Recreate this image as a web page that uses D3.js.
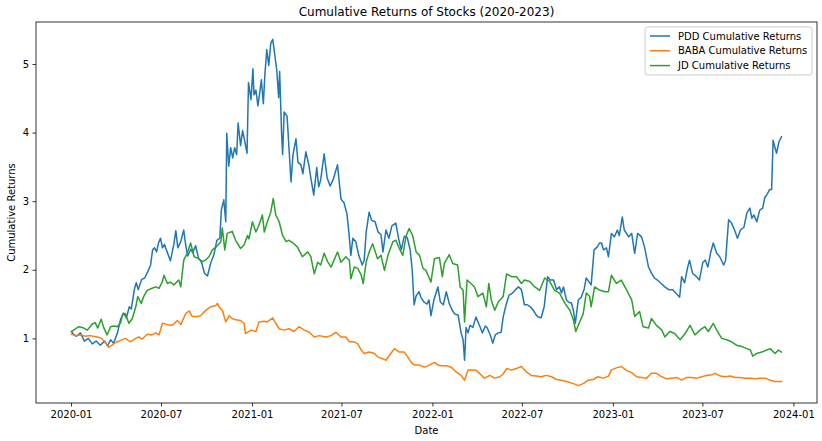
<!DOCTYPE html>
<html><head><meta charset="utf-8">
<script src="https://cdn.jsdelivr.net/npm/d3@7"></script>
<style>
body{margin:0;background:#fff}
svg{display:block}
text{font-family:"DejaVu Sans",sans-serif;fill:#000}
</style>
</head><body>
<svg id="chart" width="822" height="441"></svg>
<script>
// ---------- data ----------
const seriesNames = ["PDD Cumulative Returns", "BABA Cumulative Returns", "JD Cumulative Returns"];
const seriesColors = ["#1f77b4", "#ff7f0e", "#2ca02c"];
const xTickLabels = ["2020-01","2020-07","2021-01","2021-07","2022-01","2022-07","2023-01","2023-07","2024-01"];
const yTickValues = [1, 2, 3, 4, 5];

const pdd = [["2020-01-02",1.10],["2020-01-06",1.06],["2020-01-12",1.03],["2020-01-20",1.08],["2020-01-28",0.96],["2020-02-05",1.00],["2020-02-13",0.92],["2020-02-21",0.96],["2020-02-29",0.90],["2020-03-09",0.96],["2020-03-15",0.89],["2020-03-21",0.98],["2020-03-27",0.93],["2020-04-04",1.08],["2020-04-10",1.27],["2020-04-16",1.37],["2020-04-22",1.30],["2020-04-28",1.46],["2020-05-02",1.43],["2020-05-08",1.71],["2020-05-12",1.81],["2020-05-16",1.71],["2020-05-23",1.86],["2020-05-29",1.88],["2020-06-04",1.97],["2020-06-10",2.07],["2020-06-14",2.29],["2020-06-18",2.32],["2020-06-22",2.26],["2020-06-26",2.39],["2020-06-30",2.46],["2020-07-04",2.32],["2020-07-08",2.37],["2020-07-14",2.25],["2020-07-20",2.13],["2020-07-27",2.37],["2020-07-31",2.57],["2020-08-04",2.32],["2020-08-10",2.41],["2020-08-16",2.58],["2020-08-20",2.36],["2020-08-24",2.20],["2020-08-30",2.30],["2020-09-03",2.25],["2020-09-09",2.35],["2020-09-15",2.17],["2020-09-21",2.11],["2020-09-27",1.95],["2020-10-03",1.91],["2020-10-10",2.11],["2020-10-16",2.22],["2020-10-22",2.43],["2020-10-28",2.46],["2020-10-31",2.87],["2020-11-05",3.02],["2020-11-09",2.70],["2020-11-11",3.99],["2020-11-15",3.51],["2020-11-19",3.78],["2020-11-23",3.63],["2020-11-27",3.78],["2020-12-01",3.68],["2020-12-04",4.14],["2020-12-09",3.81],["2020-12-13",4.03],["2020-12-17",3.89],["2020-12-22",3.70],["2020-12-25",4.73],["2020-12-30",4.48],["2021-01-03",4.93],["2021-01-05",4.55],["2021-01-09",4.62],["2021-01-13",4.39],["2021-01-17",4.60],["2021-01-20",4.77],["2021-01-24",4.42],["2021-01-27",4.83],["2021-01-31",5.21],["2021-02-04",4.98],["2021-02-08",5.30],["2021-02-12",5.36],["2021-02-16",5.14],["2021-02-20",4.92],["2021-02-24",4.51],["2021-02-26",4.89],["2021-03-02",3.97],["2021-03-04",3.68],["2021-03-07",4.30],["2021-03-13",4.24],["2021-03-17",3.76],["2021-03-21",3.28],["2021-03-25",3.68],["2021-03-31",3.91],["2021-04-04",3.57],["2021-04-10",3.53],["2021-04-14",3.40],["2021-04-20",3.72],["2021-04-26",3.53],["2021-04-30",3.34],["2021-05-06",3.09],["2021-05-12",3.49],["2021-05-16",3.21],["2021-05-20",3.31],["2021-05-27",3.69],["2021-06-02",3.34],["2021-06-08",3.22],["2021-06-14",3.31],["2021-06-23",3.53],["2021-06-30",3.03],["2021-07-06",2.98],["2021-07-12",2.82],["2021-07-16",2.55],["2021-07-20",2.21],["2021-07-24",2.46],["2021-07-30",2.41],["2021-08-05",2.21],["2021-08-12",2.07],["2021-08-16",2.14],["2021-08-20",2.55],["2021-08-26",2.84],["2021-08-31",2.72],["2021-09-07",2.70],["2021-09-13",2.55],["2021-09-19",2.51],["2021-09-23",2.26],["2021-09-29",2.58],["2021-10-05",2.46],["2021-10-11",2.64],["2021-10-19",2.68],["2021-10-25",2.44],["2021-10-30",2.29],["2021-11-05",2.49],["2021-11-11",2.47],["2021-11-17",2.29],["2021-11-21",2.00],["2021-11-25",1.49],["2021-11-29",1.62],["2021-12-05",1.68],["2021-12-09",1.59],["2021-12-15",1.53],["2021-12-21",1.50],["2021-12-25",1.56],["2021-12-29",1.33],["2022-01-04",1.56],["2022-01-12",1.75],["2022-01-17",1.53],["2022-01-23",1.49],["2022-01-29",1.68],["2022-02-04",1.51],["2022-02-10",1.41],["2022-02-16",1.35],["2022-02-22",1.34],["2022-02-28",1.08],["2022-03-04",0.98],["2022-03-07",0.68],["2022-03-10",1.16],["2022-03-14",1.08],["2022-03-18",1.19],["2022-03-24",1.16],["2022-03-30",1.31],["2022-04-06",1.19],["2022-04-12",1.08],["2022-04-18",1.18],["2022-04-22",1.15],["2022-04-28",1.05],["2022-05-03",0.93],["2022-05-08",1.05],["2022-05-14",1.08],["2022-05-20",1.09],["2022-05-24",1.31],["2022-05-30",1.49],["2022-06-05",1.63],["2022-06-12",1.66],["2022-06-18",1.71],["2022-06-24",1.75],["2022-06-30",1.71],["2022-07-06",1.49],["2022-07-12",1.49],["2022-07-18",1.46],["2022-07-24",1.41],["2022-07-30",1.34],["2022-08-03",1.31],["2022-08-09",1.30],["2022-08-15",1.46],["2022-08-22",1.90],["2022-08-27",1.85],["2022-09-03",1.85],["2022-09-09",1.71],["2022-09-15",1.75],["2022-09-19",1.66],["2022-09-23",1.75],["2022-09-29",1.56],["2022-10-05",1.52],["2022-10-09",1.52],["2022-10-13",1.41],["2022-10-17",1.22],["2022-10-23",1.56],["2022-10-29",1.60],["2022-11-04",1.72],["2022-11-08",1.88],["2022-11-14",1.82],["2022-11-18",1.78],["2022-11-24",2.29],["2022-11-30",2.33],["2022-12-05",2.39],["2022-12-09",2.39],["2022-12-13",2.29],["2022-12-19",2.32],["2022-12-23",2.19],["2022-12-29",2.53],["2023-01-04",2.48],["2023-01-10",2.58],["2023-01-14",2.50],["2023-01-20",2.77],["2023-01-24",2.58],["2023-02-02",2.48],["2023-02-08",2.53],["2023-02-14",2.24],["2023-02-20",2.53],["2023-02-28",2.48],["2023-03-06",2.33],["2023-03-14",2.04],["2023-03-20",1.95],["2023-03-26",1.88],["2023-04-01",1.85],["2023-04-07",1.81],["2023-04-16",1.75],["2023-04-24",1.71],["2023-05-02",1.71],["2023-05-08",1.66],["2023-05-16",1.60],["2023-05-20",1.90],["2023-05-26",1.81],["2023-06-01",2.03],["2023-06-05",2.14],["2023-06-11",1.95],["2023-06-19",1.90],["2023-06-25",1.85],["2023-07-02",2.11],["2023-07-07",2.14],["2023-07-12",2.04],["2023-07-18",2.26],["2023-07-23",2.39],["2023-07-30",2.24],["2023-08-05",2.19],["2023-08-13",2.07],["2023-08-17",2.14],["2023-08-23",2.73],["2023-08-29",2.68],["2023-09-04",2.58],["2023-09-10",2.46],["2023-09-16",2.58],["2023-09-23",2.62],["2023-09-29",2.83],["2023-10-05",2.90],["2023-10-09",2.75],["2023-10-13",2.80],["2023-10-19",2.70],["2023-10-25",2.87],["2023-10-31",2.90],["2023-11-04",3.05],["2023-11-08",3.09],["2023-11-14",3.17],["2023-11-18",3.17],["2023-11-21",3.89],["2023-11-24",3.80],["2023-11-28",3.70],["2023-12-03",3.87],["2023-12-08",3.94]];

const baba = [["2020-01-02",1.06],["2020-01-10",1.04],["2020-01-20",1.05],["2020-01-30",1.03],["2020-02-09",1.04],["2020-02-23",1.02],["2020-03-03",1.00],["2020-03-11",0.93],["2020-03-17",0.87],["2020-03-24",0.90],["2020-03-31",0.94],["2020-04-10",0.97],["2020-04-20",1.00],["2020-04-30",0.95],["2020-05-11",1.00],["2020-05-17",1.02],["2020-05-24",0.99],["2020-06-03",1.06],["2020-06-13",1.05],["2020-06-20",1.08],["2020-06-27",1.05],["2020-07-04",1.22],["2020-07-14",1.20],["2020-07-24",1.19],["2020-08-03",1.26],["2020-08-10",1.20],["2020-08-20",1.36],["2020-08-27",1.40],["2020-09-02",1.32],["2020-09-13",1.32],["2020-09-19",1.33],["2020-09-27",1.39],["2020-10-03",1.43],["2020-10-10",1.46],["2020-10-20",1.48],["2020-10-23",1.51],["2020-10-26",1.46],["2020-11-02",1.41],["2020-11-09",1.24],["2020-11-16",1.33],["2020-11-22",1.29],["2020-11-29",1.27],["2020-12-09",1.26],["2020-12-16",1.22],["2020-12-19",1.07],["2020-12-30",1.12],["2021-01-09",1.10],["2021-01-15",1.24],["2021-01-26",1.25],["2021-02-01",1.24],["2021-02-12",1.30],["2021-02-18",1.22],["2021-02-25",1.14],["2021-03-07",1.12],["2021-03-17",1.14],["2021-03-27",1.10],["2021-04-06",1.17],["2021-04-17",1.12],["2021-04-27",1.09],["2021-05-07",1.02],["2021-05-17",1.04],["2021-05-31",1.02],["2021-06-10",1.04],["2021-06-20",1.09],["2021-06-30",1.02],["2021-07-10",1.02],["2021-07-17",0.95],["2021-07-27",0.95],["2021-08-03",0.92],["2021-08-10",0.83],["2021-08-16",0.78],["2021-08-26",0.80],["2021-09-06",0.78],["2021-09-12",0.73],["2021-09-23",0.70],["2021-09-29",0.68],["2021-10-06",0.75],["2021-10-16",0.85],["2021-10-26",0.80],["2021-11-05",0.80],["2021-11-12",0.73],["2021-11-19",0.65],["2021-11-26",0.61],["2021-12-06",0.61],["2021-12-16",0.58],["2021-12-26",0.61],["2022-01-05",0.65],["2022-01-12",0.61],["2022-01-19",0.60],["2022-01-29",0.60],["2022-02-08",0.58],["2022-02-18",0.51],["2022-02-28",0.46],["2022-03-07",0.39],["2022-03-14",0.54],["2022-03-24",0.54],["2022-03-31",0.53],["2022-04-06",0.49],["2022-04-16",0.42],["2022-04-27",0.46],["2022-05-07",0.42],["2022-05-17",0.44],["2022-05-24",0.48],["2022-05-31",0.56],["2022-06-10",0.54],["2022-06-20",0.56],["2022-06-30",0.59],["2022-07-10",0.51],["2022-07-20",0.46],["2022-07-30",0.45],["2022-08-09",0.44],["2022-08-19",0.46],["2022-08-30",0.44],["2022-09-09",0.40],["2022-09-19",0.39],["2022-09-29",0.37],["2022-10-13",0.34],["2022-10-23",0.31],["2022-11-02",0.34],["2022-11-12",0.39],["2022-11-22",0.40],["2022-12-02",0.44],["2022-12-12",0.42],["2022-12-23",0.45],["2022-12-29",0.54],["2023-01-08",0.57],["2023-01-18",0.59],["2023-01-29",0.53],["2023-02-08",0.50],["2023-02-18",0.44],["2023-02-28",0.43],["2023-03-10",0.42],["2023-03-20",0.49],["2023-03-30",0.49],["2023-04-10",0.44],["2023-04-20",0.41],["2023-04-30",0.42],["2023-05-10",0.43],["2023-05-20",0.39],["2023-05-30",0.43],["2023-06-09",0.43],["2023-06-19",0.42],["2023-06-30",0.44],["2023-07-10",0.46],["2023-07-20",0.47],["2023-07-27",0.49],["2023-08-06",0.45],["2023-08-16",0.44],["2023-08-26",0.45],["2023-09-05",0.43],["2023-09-15",0.43],["2023-09-25",0.42],["2023-10-06",0.42],["2023-10-16",0.41],["2023-10-26",0.42],["2023-11-05",0.42],["2023-11-15",0.39],["2023-11-25",0.37],["2023-12-08",0.37]];

const jd = [["2020-01-02",1.10],["2020-01-06",1.12],["2020-01-17",1.17],["2020-01-27",1.15],["2020-02-03",1.12],["2020-02-13",1.21],["2020-02-19",1.23],["2020-02-24",1.15],["2020-03-02",1.28],["2020-03-07",1.16],["2020-03-14",1.05],["2020-03-21",1.17],["2020-03-28",1.18],["2020-04-03",1.17],["2020-04-10",1.22],["2020-04-14",1.34],["2020-04-20",1.36],["2020-04-27",1.22],["2020-05-04",1.29],["2020-05-11",1.46],["2020-05-15",1.61],["2020-05-22",1.51],["2020-05-27",1.61],["2020-06-03",1.70],["2020-06-13",1.73],["2020-06-20",1.75],["2020-06-27",1.73],["2020-07-04",1.83],["2020-07-07",1.92],["2020-07-14",1.80],["2020-07-20",1.82],["2020-07-27",1.78],["2020-08-06",1.85],["2020-08-10",1.75],["2020-08-16",2.14],["2020-08-23",2.24],["2020-08-30",2.39],["2020-09-06",2.19],["2020-09-13",2.17],["2020-09-23",2.12],["2020-09-29",2.14],["2020-10-06",2.19],["2020-10-13",2.29],["2020-10-20",2.33],["2020-10-30",2.41],["2020-11-02",2.61],["2020-11-07",2.29],["2020-11-12",2.53],["2020-11-22",2.56],["2020-11-29",2.43],["2020-12-09",2.31],["2020-12-16",2.36],["2020-12-23",2.50],["2020-12-26",2.45],["2021-01-02",2.70],["2021-01-09",2.55],["2021-01-15",2.65],["2021-01-22",2.80],["2021-01-26",2.55],["2021-02-01",2.70],["2021-02-08",2.84],["2021-02-13",3.04],["2021-02-18",2.80],["2021-02-25",2.70],["2021-03-04",2.50],["2021-03-11",2.41],["2021-03-17",2.43],["2021-03-27",2.38],["2021-04-03",2.33],["2021-04-13",2.19],["2021-04-24",2.26],["2021-04-30",2.19],["2021-05-07",1.94],["2021-05-14",2.11],["2021-05-20",2.07],["2021-05-27",2.24],["2021-06-03",2.12],["2021-06-10",2.04],["2021-06-16",2.14],["2021-06-23",2.26],["2021-06-30",2.11],["2021-07-10",2.19],["2021-07-17",2.14],["2021-07-20",1.87],["2021-07-27",2.04],["2021-08-03",2.02],["2021-08-10",1.92],["2021-08-14",1.80],["2021-08-20",2.11],["2021-08-26",2.26],["2021-09-02",2.38],["2021-09-12",2.16],["2021-09-19",2.21],["2021-09-26",1.99],["2021-10-03",2.21],["2021-10-13",2.41],["2021-10-19",2.43],["2021-10-26",2.31],["2021-11-02",2.21],["2021-11-09",2.50],["2021-11-15",2.60],["2021-11-22",2.50],["2021-11-29",2.26],["2021-12-06",2.21],["2021-12-13",2.02],["2021-12-19",1.99],["2021-12-29",1.82],["2022-01-05",2.16],["2022-01-15",2.18],["2022-01-21",1.90],["2022-01-25",2.09],["2022-02-04",2.22],["2022-02-11",2.09],["2022-02-21",2.07],["2022-02-26",1.75],["2022-03-04",1.70],["2022-03-07",1.24],["2022-03-12",1.85],["2022-03-20",1.80],["2022-03-27",1.75],["2022-04-03",1.61],["2022-04-13",1.66],["2022-04-20",1.46],["2022-04-25",1.80],["2022-04-30",1.56],["2022-05-07",1.41],["2022-05-14",1.53],["2022-05-24",1.61],["2022-05-31",1.94],["2022-06-10",1.90],["2022-06-20",1.90],["2022-06-30",1.80],["2022-07-06",1.85],["2022-07-17",1.83],["2022-07-27",1.75],["2022-08-06",1.70],["2022-08-16",1.88],["2022-08-26",1.83],["2022-09-05",1.70],["2022-09-15",1.66],["2022-09-26",1.51],["2022-10-06",1.41],["2022-10-13",1.27],["2022-10-18",1.10],["2022-10-23",1.19],["2022-11-02",1.36],["2022-11-08",1.66],["2022-11-15",1.61],["2022-11-18",1.46],["2022-11-25",1.75],["2022-12-06",1.70],["2022-12-16",1.68],["2022-12-23",1.68],["2022-12-29",1.92],["2023-01-08",1.80],["2023-01-18",1.85],["2023-01-29",1.70],["2023-02-08",1.56],["2023-02-14",1.32],["2023-02-24",1.39],["2023-03-03",1.17],["2023-03-14",1.15],["2023-03-20",1.29],["2023-03-30",1.19],["2023-04-10",1.12],["2023-04-16",1.02],["2023-04-26",1.10],["2023-05-06",1.07],["2023-05-17",0.98],["2023-05-27",1.07],["2023-06-06",1.19],["2023-06-16",1.05],["2023-06-26",1.12],["2023-07-06",1.17],["2023-07-13",1.10],["2023-07-23",1.22],["2023-07-30",1.12],["2023-08-09",1.00],["2023-08-19",0.98],["2023-08-29",0.95],["2023-09-08",0.90],["2023-09-19",0.88],["2023-09-29",0.85],["2023-10-06",0.83],["2023-10-11",0.74],["2023-10-19",0.78],["2023-10-29",0.80],["2023-11-08",0.83],["2023-11-15",0.85],["2023-11-25",0.78],["2023-12-02",0.83],["2023-12-08",0.80]];

// ---------- drawing ----------
const W = 822, H = 441;
const m = {left: 36, right: 5, top: 22, bottom: 38};
const iw = W - m.left - m.right, ih = H - m.top - m.bottom;
const parse = d3.timeParse("%Y-%m-%d");
const parseMonth = d3.timeParse("%Y-%m");
const allSeries = [pdd, baba, jd].map(s => s.map(([d, v]) => ({date: parse(d), value: v})));

const allPts = allSeries.flat();
const [x0, x1] = d3.extent(allPts, d => d.date);
const xPad = (x1 - x0) * 0.05;
const [y0, y1] = d3.extent(allPts, d => d.value);
const yPad = (y1 - y0) * 0.05;

const x = d3.scaleTime().domain([new Date(+x0 - xPad), new Date(+x1 + xPad)]).range([0, iw]);
const y = d3.scaleLinear().domain([y0 - yPad, y1 + yPad]).range([ih, 0]);

const svg = d3.select("#chart");
svg.append("rect").attr("width", W).attr("height", H).attr("fill", "#fff");
const g = svg.append("g").attr("transform", `translate(${m.left},${m.top})`);

// title
svg.append("text").attr("x", m.left + iw / 2).attr("y", 16)
  .attr("text-anchor", "middle").attr("font-size", 12)
  .text("Cumulative Returns of Stocks (2020-2023)");

// axes
const xAxis = d3.axisBottom(x)
  .tickValues(xTickLabels.map(parseMonth))
  .tickFormat(d3.timeFormat("%Y-%m"))
  .tickSize(3.5).tickPadding(4.5);
const gx = g.append("g").attr("transform", `translate(0,${ih})`).call(xAxis);
gx.select(".domain").remove();
gx.selectAll("line").attr("stroke", "#000").attr("stroke-width", 0.8);
gx.selectAll("text").attr("font-size", 10).attr("font-family", "DejaVu Sans").attr("fill", "#000");

const yAxis = d3.axisLeft(y).tickValues(yTickValues).tickFormat(d3.format("d"))
  .tickSize(3.5).tickPadding(3.5);
const gy = g.append("g").call(yAxis);
gy.select(".domain").remove();
gy.selectAll("line").attr("stroke", "#000").attr("stroke-width", 0.8);
gy.selectAll("text").attr("font-size", 10).attr("font-family", "DejaVu Sans").attr("fill", "#000");

// axis labels
svg.append("text").attr("x", m.left + iw / 2).attr("y", 434)
  .attr("text-anchor", "middle").attr("font-size", 10).text("Date");
svg.append("text").attr("transform", `translate(15.3,${m.top + ih / 2}) rotate(-90)`)
  .attr("text-anchor", "middle").attr("font-size", 10).text("Cumulative Returns");

// lines
const line = d3.line().x(d => x(d.date)).y(d => y(d.value));
allSeries.forEach((s, i) => {
  g.append("path").datum(s)
    .attr("fill", "none")
    .attr("stroke", seriesColors[i])
    .attr("stroke-width", 1.5)
    .attr("stroke-linejoin", "round")
    .attr("stroke-linecap", "square")
    .attr("d", line);
});

// frame
g.append("rect").attr("width", iw).attr("height", ih)
  .attr("fill", "none").attr("stroke", "#000").attr("stroke-width", 0.8);

// legend
const lg = svg.append("g").attr("transform", "translate(645,27)");
lg.append("rect").attr("width", 167).attr("height", 48).attr("rx", 2.5)
  .attr("fill", "#fff").attr("fill-opacity", 0.8)
  .attr("stroke", "#cccccc").attr("stroke-width", 1);
seriesNames.forEach((name, i) => {
  const cy = 9 + i * 14.8;
  lg.append("line").attr("x1", 5).attr("x2", 25).attr("y1", cy).attr("y2", cy)
    .attr("stroke", seriesColors[i]).attr("stroke-width", 1.5);
  lg.append("text").attr("x", 33).attr("y", cy + 3.6).attr("font-size", 10).text(name);
});
</script>
</body></html>
